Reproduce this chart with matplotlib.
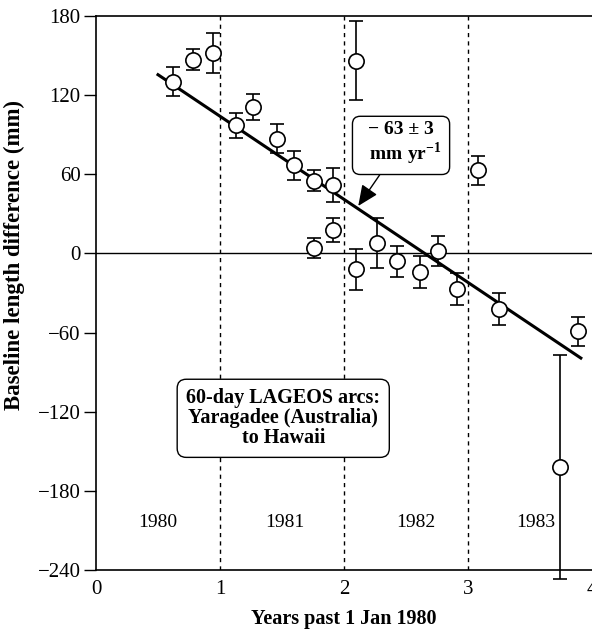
import matplotlib
matplotlib.use("Agg")
import matplotlib.pyplot as plt
import numpy as np

# Data (years past 1 Jan 1980, baseline length difference in mm, 1-sigma error)
years = [0.62, 0.78, 0.94, 1.13, 1.27, 1.46, 1.60, 1.76, 1.76, 1.91, 1.91,
         2.10, 2.10, 2.27, 2.43, 2.61, 2.76, 2.91, 3.08, 3.25, 3.74, 3.89]
diff_mm = [130, 147, 152, 97, 111, 87, 67, 55, 4, 52, 18,
           146, -12, 8, -6, -14, 2, -27, 63, -42, -162, -59]
err_mm = [11, 8, 15, 9.5, 9.5, 11, 11, 8, 7.5, 13, 9,
          30, 15.5, 19, 12, 12, 11.5, 12, 11, 12, 85, 11]

fit_x = [0.5, 3.91]
fit_intercept = 167.0
fit_slope = -63.0

year_names = ["1980", "1981", "1982", "1983"]
year_label_x = [0.5, 1.52, 2.58, 3.55]
year_bounds = [1, 2, 3]

xticks = [0, 1, 2, 3, 4]
yticks = [-240, -180, -120, -60, 0, 60, 120, 180]

plt.rcParams['font.family'] = ['Liberation Serif', 'DejaVu Serif']
plt.rcParams['mathtext.fontset'] = 'custom'
plt.rcParams['mathtext.rm'] = 'Liberation Serif'
plt.rcParams['mathtext.bf'] = 'Liberation Serif:bold'

fig = plt.figure(figsize=(5.92, 6.29), dpi=100)
ax = fig.add_axes([96/592, 1 - 570/629, 1 - 96/592, (570 - 16)/629])

ax.set_xlim(0, 4)
ax.set_ylim(-240, 180)

for b in year_bounds:
    ax.axvline(b, color='black', lw=1.0, ls=(0, (3, 3)), zorder=1)
ax.axhline(0, color='black', lw=1.0, zorder=1)

fx = np.array(fit_x)
ax.plot(fx, fit_intercept + fit_slope * fx, color='black', lw=2.2, zorder=2)

eb = ax.errorbar(years, diff_mm, yerr=err_mm, fmt='o', ms=11, mfc='white',
                 mec='black', mew=1.2, ecolor='black', elinewidth=1.2,
                 capsize=5, capthick=1.2, zorder=3)
for art in eb.lines[1]:
    art.set_clip_on(False)
for art in eb.lines[2]:
    art.set_clip_on(False)

for name, xx in zip(year_names, year_label_x):
    ax.text(xx, -204, name, ha='center', va='center', fontsize=14)

ax.annotate("− 63 ± 3\n  mm yr$^{\\mathbf{−1}}$", xy=(2.115, 36), xytext=(2.46, 83),
            ha='center', va='center', fontsize=14, fontweight='bold',
            linespacing=1.1,
            bbox=dict(boxstyle='round,pad=0.4', fc='white', ec='black', lw=1.0),
            arrowprops=dict(arrowstyle='-|>,head_length=0.9,head_width=0.4',
                            color='black', lw=1.0, shrinkA=0, shrinkB=0),
            zorder=4)

ax.text(1.51, -125, "60-day LAGEOS arcs:\nYaragadee (Australia)\nto Hawaii",
        ha='center', va='center', fontsize=14.5, fontweight='bold',
        linespacing=1.0,
        bbox=dict(boxstyle='round,pad=0.45', fc='white', ec='black', lw=1.0),
        zorder=4)

ax.set_xticks(xticks)
ax.set_yticks(yticks)
ax.set_yticklabels([f"{t}".replace('-', '−') for t in yticks])
ax.tick_params(axis='x', length=0, pad=7, labelsize=15)
ax.tick_params(axis='y', direction='out', length=9, width=1.0, pad=2, labelsize=15)

ax.spines['right'].set_visible(False)
for s in ['left', 'bottom', 'top']:
    ax.spines[s].set_linewidth(1.2)

fig.text(344/592, 1 - 619/629, "Years past 1 Jan 1980", ha='center', va='center',
         fontsize=14.5, fontweight='bold')
fig.text(14/592, 1 - 255/629, "Baseline length difference (mm)", rotation=90,
         ha='center', va='center', fontsize=16.5, fontweight='bold')

fig.savefig("out.png", dpi=100)
